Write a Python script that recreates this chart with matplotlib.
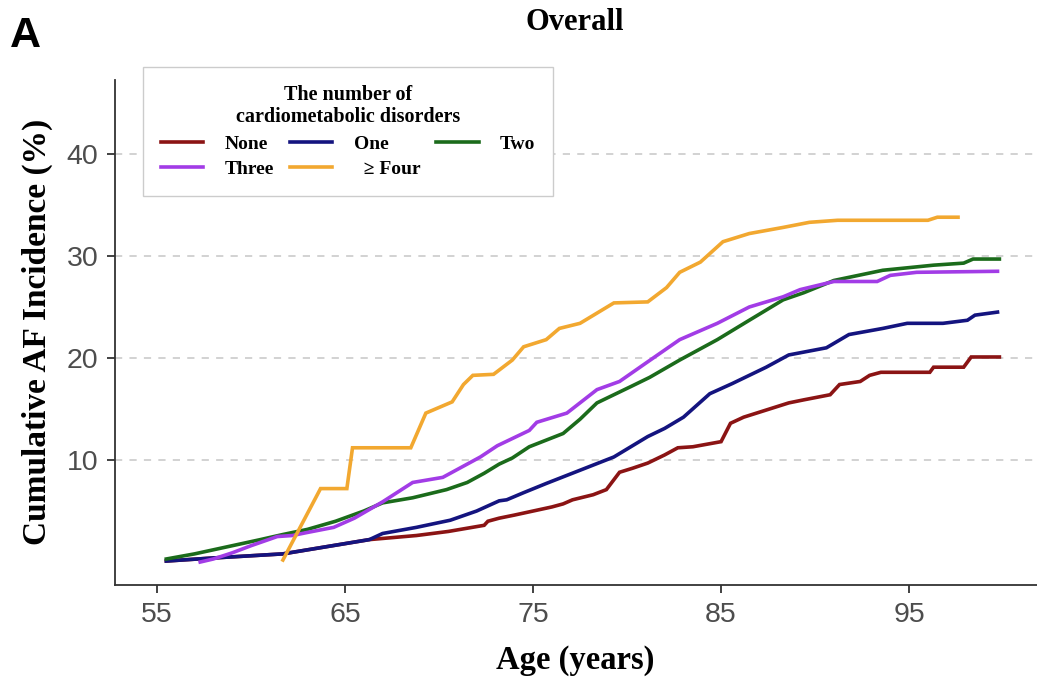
import matplotlib
matplotlib.use('Agg')
import matplotlib.pyplot as plt

# cumulative AF incidence (%) by age
age_none = [55.5, 58, 61.7, 64, 66.3, 68.8, 70.5, 72.4, 72.6, 73.2, 74, 75, 76, 76.6, 77.1,
            78.2, 78.9, 79.6, 80.3, 81.1, 82, 82.7, 83.5, 85, 85.5, 86.2, 87.4, 88.6, 89.4,
            90.8, 91.3, 92.4, 92.9, 93.5, 96.1, 96.3, 97.9, 98.3, 99.8]
inc_none = [0.1, 0.4, 0.8, 1.5, 2.2, 2.6, 3.0, 3.6, 4.0, 4.3, 4.6, 5.0, 5.4, 5.7, 6.1,
            6.6, 7.1, 8.8, 9.2, 9.7, 10.5, 11.2, 11.3, 11.8, 13.6, 14.2, 14.9, 15.6, 15.9,
            16.4, 17.4, 17.7, 18.3, 18.6, 18.6, 19.1, 19.1, 20.1, 20.1]

age_one = [55.5, 58, 61.7, 64, 66.3, 67, 68.8, 70.6, 72, 73.2, 73.6, 74.5, 75.7, 77.5, 79.3,
           80.2, 81.1, 82, 83, 84.4, 85.6, 87.4, 88.6, 90.6, 91.8, 93.6, 94.9, 96.8, 98.1,
           98.5, 99.7]
inc_one = [0.1, 0.4, 0.8, 1.5, 2.2, 2.8, 3.4, 4.1, 5.0, 6.0, 6.1, 6.8, 7.7, 9.0, 10.3,
           11.3, 12.3, 13.1, 14.2, 16.5, 17.5, 19.1, 20.3, 21.0, 22.3, 22.9, 23.4, 23.4, 23.7,
           24.2, 24.5]

age_two = [55.5, 57, 59, 60.5, 61.7, 63, 64.5, 66, 67, 68.6, 70.4, 71.5, 72.4, 73.2, 73.9,
           74.8, 76.6, 77.5, 78.4, 80.2, 81.2, 82.8, 84.8, 86.5, 88.3, 89.4, 91, 93.6, 96.3,
           97.9, 98.4, 99.8]
inc_two = [0.3, 0.8, 1.6, 2.2, 2.7, 3.2, 4.0, 5.0, 5.8, 6.3, 7.1, 7.8, 8.7, 9.6, 10.2,
           11.3, 12.6, 14.0, 15.6, 17.2, 18.1, 19.8, 21.8, 23.7, 25.7, 26.4, 27.6, 28.6, 29.1,
           29.3, 29.7, 29.7]

age_three = [57.3, 58, 59, 60, 61.4, 62.2, 63, 64.4, 65.5, 67, 68.6, 70.2, 70.6, 72.2, 73.1,
             74.8, 75.2, 76.8, 78.4, 79.6, 81.0, 82.8, 84.8, 86.5, 88.3, 89.2, 91, 93.3, 94,
             95.4, 99.7]
inc_three = [0.0, 0.3, 0.9, 1.6, 2.5, 2.6, 2.9, 3.4, 4.3, 5.9, 7.8, 8.3, 8.7, 10.3, 11.4,
             12.9, 13.7, 14.6, 16.9, 17.7, 19.5, 21.8, 23.4, 25.0, 26.0, 26.7, 27.5, 27.5, 28.1,
             28.4, 28.5]

age_four = [61.7, 63.7, 65.1, 65.4, 68.5, 69.3, 70.7, 71.3, 71.8, 72.9, 73.9, 74.5, 75.7, 76.4,
            77.5, 79.3, 81.1, 82.1, 82.8, 83.9, 84.8, 85.1, 86.5, 88.3, 89.7, 91.2, 96, 96.5,
            97.6]
inc_four = [0.2, 7.2, 7.2, 11.2, 11.2, 14.6, 15.7, 17.4, 18.3, 18.4, 19.8, 21.1, 21.8, 22.9,
            23.4, 25.4, 25.5, 26.9, 28.4, 29.4, 30.9, 31.4, 32.2, 32.8, 33.3, 33.5, 33.5, 33.8,
            33.8]

labels = ['None', 'One', 'Two', 'Three', '  \u2265 Four']
colors = ['#8B1414', '#14147F', '#1B6B1B', '#A23CE6', '#F2A830']
xticks = [55, 65, 75, 85, 95]
yticks = [10, 20, 30, 40]

serif = 'Liberation Serif'
sans = 'Liberation Sans'

fig = plt.figure(figsize=(10.37, 6.79), dpi=100)
ax = fig.add_axes([115 / 1037, 94 / 679, 922 / 1037, 505 / 679])

series = [(age_none, inc_none), (age_one, inc_one), (age_two, inc_two),
          (age_three, inc_three), (age_four, inc_four)]
handles = []
for (a, v), lbl, c in zip(series, labels, colors):
    h, = ax.plot(a, v, color=c, lw=2.6, label=lbl, solid_joinstyle='miter')
    handles.append(h)

ax.set_xlim(52.77, 101.8)
ax.set_ylim(-2.25, 47.25)
ax.set_xticks(xticks)
ax.set_yticks(yticks)
ax.tick_params(axis='both', direction='out', length=6, width=1.3, color='#333333',
               labelsize=20.5, labelcolor='#4D4D4D', pad=6)
for t in ax.get_xticklabels() + ax.get_yticklabels():
    t.set_fontfamily(sans)
for s in ['top', 'right']:
    ax.spines[s].set_visible(False)
for s in ['left', 'bottom']:
    ax.spines[s].set_color('#333333')
    ax.spines[s].set_linewidth(1.3)
ax.yaxis.grid(True, color='#CFCFCF', lw=1.3, ls=(0, (4, 4)))
ax.set_axisbelow(True)

# legend rows: None One Two / Three >=Four (matplotlib fills column-wise)
order = [0, 3, 1, 4, 2]
leg = ax.legend([handles[i] for i in order], [labels[i] for i in order],
                title='The number of\ncardiometabolic disorders', ncol=3,
                loc='upper left', bbox_to_anchor=(143 / 1037, 1 - 67 / 679),
                bbox_transform=fig.transFigure, borderaxespad=0,
                prop={'family': serif, 'weight': 'bold', 'size': 14},
                title_fontproperties={'family': serif, 'weight': 'bold', 'size': 14.5},
                handlelength=2.2, handletextpad=1.1, columnspacing=0.8,
                borderpad=0.9, labelspacing=0.4, fancybox=False, alignment='center',
                edgecolor='#CCCCCC', framealpha=1)
leg.get_frame().set_linewidth(1.0)
leg.get_title().set_multialignment('center')

fig.text(575 / 1037, 1 - 22 / 679, 'Overall', ha='center', va='center',
         fontfamily=serif, fontweight='bold', fontsize=22)
fig.text(10 / 1037, 1 - 36 / 679, 'A', ha='left', va='center',
         fontfamily=sans, fontweight='bold', fontsize=31)
fig.text(575 / 1037, 1 - 660 / 679, 'Age (years)', ha='center', va='center',
         fontfamily=serif, fontweight='bold', fontsize=23.5)
fig.text(37 / 1037, 1 - 332 / 679, 'Cumulative AF Incidence (%)', ha='center', va='center',
         rotation=90, fontfamily=serif, fontweight='bold', fontsize=24)

plt.savefig('out.png', dpi=100)
